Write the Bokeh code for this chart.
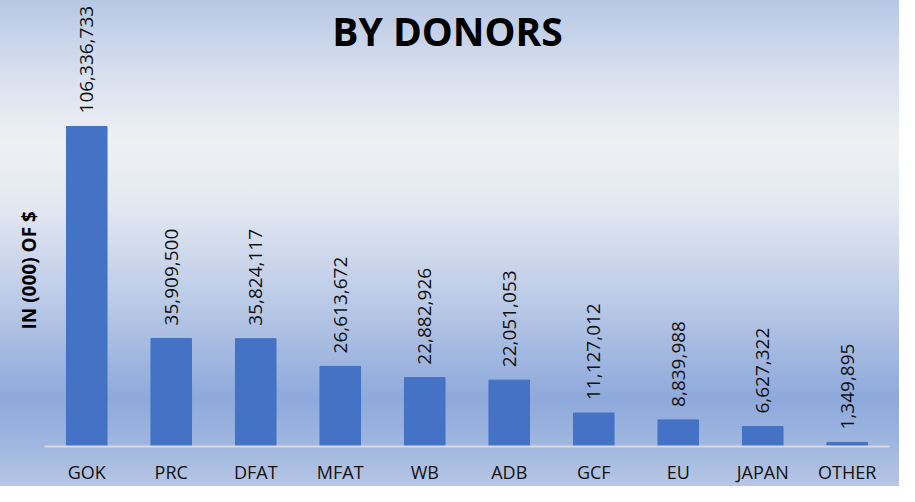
import math
from bokeh.plotting import figure
from bokeh.models import ColumnDataSource, LabelSet, Label, Range1d, Title
from bokeh.core.properties import value
from bokeh.embed import file_html
from bokeh.resources import INLINE

donors = ["GOK", "PRC", "DFAT", "MFAT", "WB", "ADB", "GCF", "EU", "JAPAN", "OTHER"]
amounts = [106336733, 35909500, 35824117, 26613672, 22882926, 22051053,
           11127012, 8839988, 6627322, 1349895]
amount_labels = [f"{v:,}" for v in amounts]
title_text = "BY DONORS"
y_label_text = "IN (000) OF $"

source = ColumnDataSource(dict(donor=donors, amount=amounts, label=amount_labels))

p = figure(width=899, height=486, x_range=donors, y_range=Range1d(0, 148.2e6),
           output_backend="svg", toolbar_location=None,
           min_border_left=44, min_border_right=10, min_border_top=0,
           min_border_bottom=34)
p.x_range.range_padding = 0
p.background_fill_alpha = 0
p.border_fill_alpha = 0
p.outline_line_color = None
p.styles = {"background": "linear-gradient(to bottom, #B7C7E4 0%, #D6DEEE 14%, #EEF0F3 29%, "
                          "#E4E8F1 42%, #BFCDE8 60%, #8EA9DB 82%, #9DB4DF 90%, #B6C6E5 100%)"}

p.vbar(x="donor", top="amount", width=0.48, source=source, color="#4472C4")

labels = LabelSet(x="donor", y="amount", text="label", source=source, angle=math.pi / 2,
                  text_align="left", text_baseline="middle", y_offset=13,
                  text_font=value("Open Sans"), text_font_size="19px", text_color="#111111")
p.add_layout(labels)

p.add_layout(Label(x=403, y=416, x_units="screen", y_units="screen", text=title_text,
                   text_align="center", text_baseline="middle", text_font="Open Sans",
                   text_font_style="bold", text_font_size="39px", text_color="#000000"))

ytitle = Title(text=y_label_text, align="left", offset=117, text_font="Open Sans",
               text_font_style="bold", text_font_size="19px", text_color="#000000",
               standoff=6)
p.add_layout(ytitle, "left")

p.yaxis.visible = False
p.xgrid.grid_line_color = None
p.ygrid.grid_line_color = None
p.xaxis.axis_line_color = "#D9D9D9"
p.xaxis.axis_line_width = 2
p.xaxis.major_tick_line_color = None
p.xaxis.minor_tick_line_color = None
p.xaxis.major_tick_out = 0
p.xaxis.major_tick_in = 0
p.xaxis.major_label_standoff = 13
p.xaxis.major_label_text_font = "Open Sans"
p.xaxis.major_label_text_font_size = "18px"
p.xaxis.major_label_text_color = "#111111"

open("out.html", "w").write(file_html(p, INLINE))
